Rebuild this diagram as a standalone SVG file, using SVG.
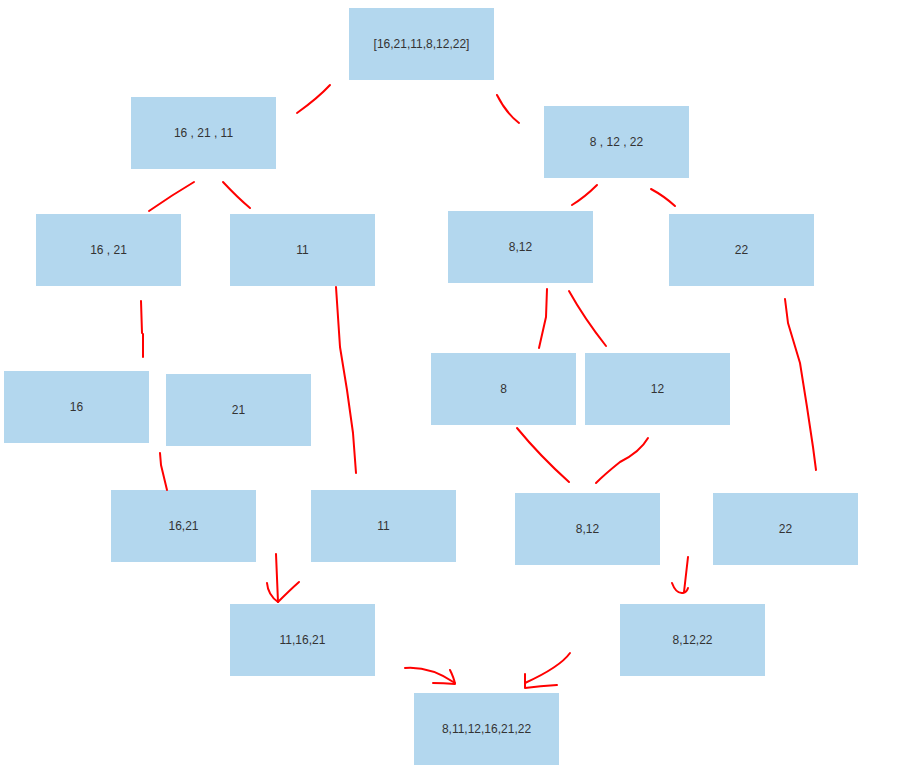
<svg xmlns="http://www.w3.org/2000/svg" width="907" height="770" viewBox="0 0 907 770">
<style>
.n rect{fill:#b3d7ee}
.n text{font-family:"Liberation Sans",Arial,sans-serif;font-size:12px;fill:#333;text-anchor:middle;dominant-baseline:central}
.c path{fill:none;stroke:#ff0000;stroke-width:2;stroke-linecap:round;stroke-linejoin:round}
</style>
<rect width="907" height="770" fill="#ffffff"/>
<g id="n-root" class="n"><rect x="349" y="8" width="145" height="72"/><text x="421.5" y="44">[16,21,11,8,12,22]</text></g>
<g id="n-l1" class="n"><rect x="131" y="97" width="145" height="72"/><text x="203.5" y="133">16 , 21 , 11</text></g>
<g id="n-r1" class="n"><rect x="544" y="106" width="145" height="72"/><text x="616.5" y="142">8 , 12 , 22</text></g>
<g id="n-l2a" class="n"><rect x="36" y="214" width="145" height="72"/><text x="108.5" y="250">16 , 21</text></g>
<g id="n-l2b" class="n"><rect x="230" y="214" width="145" height="72"/><text x="302.5" y="250">11</text></g>
<g id="n-r2a" class="n"><rect x="448" y="211" width="145" height="72"/><text x="520.5" y="247">8,12</text></g>
<g id="n-r2b" class="n"><rect x="669" y="214" width="145" height="72"/><text x="741.5" y="250">22</text></g>
<g id="n-16" class="n"><rect x="4" y="371" width="145" height="72"/><text x="76.5" y="407">16</text></g>
<g id="n-21" class="n"><rect x="166" y="374" width="145" height="72"/><text x="238.5" y="410">21</text></g>
<g id="n-8" class="n"><rect x="431" y="353" width="145" height="72"/><text x="503.5" y="389">8</text></g>
<g id="n-12" class="n"><rect x="585" y="353" width="145" height="72"/><text x="657.5" y="389">12</text></g>
<g id="n-m1621" class="n"><rect x="111" y="490" width="145" height="72"/><text x="183.5" y="526">16,21</text></g>
<g id="n-m11" class="n"><rect x="311" y="490" width="145" height="72"/><text x="383.5" y="526">11</text></g>
<g id="n-m812" class="n"><rect x="515" y="493" width="145" height="72"/><text x="587.5" y="529">8,12</text></g>
<g id="n-m22" class="n"><rect x="713" y="493" width="145" height="72"/><text x="785.5" y="529">22</text></g>
<g id="n-m111621" class="n"><rect x="230" y="604" width="145" height="72"/><text x="302.5" y="640">11,16,21</text></g>
<g id="n-m81222" class="n"><rect x="620" y="604" width="145" height="72"/><text x="692.5" y="640">8,12,22</text></g>
<g id="n-final" class="n"><rect x="414" y="693" width="145" height="72"/><text x="486.5" y="729">8,11,12,16,21,22</text></g>
<g id="connectors" class="c">
<path d="M330 85 Q318 98 297 113"/>
<path d="M497 95 Q506 113 519 123"/>
<path d="M194 182 Q172 195 149 211"/>
<path d="M223 182 Q238 198 250 208"/>
<path d="M597 185 Q585 197 572 205"/>
<path d="M651 189 Q664 196 675 206"/>
<path d="M547 289 L546 317 L539 348"/>
<path d="M569 291 Q584 318 606 346"/>
<path d="M517 428 Q540 456 569 482"/>
<path d="M648 438 Q640 452 620 462 Q605 474 596 483"/>
<path d="M141 301 L142 333 M143 334 L143 357"/>
<path d="M336 287 L340 347 L347 390 L353 433 L356 473"/>
<path d="M785 299 L788 323 L800 363 L807 407 L813 447 L816 470"/>
<path d="M160 453 L161 465 L167 490"/>
<path d="M276 554 Q277 580 278 602"/>
<path d="M267 583 Q268 595 278 602 Q290 590 299 582"/>
<path d="M405 668 Q430 666 455 683"/>
<path d="M450 670 Q454 678 455 684 Q443 683 433 683"/>
<path d="M570 653 Q560 667 525 683"/>
<path d="M525 674 L525 688 Q540 686 557 685"/>
<path d="M688 557 L684 592"/>
<path d="M672 583 Q676 594 683 593 Q687 592 688 588"/>
</g>
</svg>
